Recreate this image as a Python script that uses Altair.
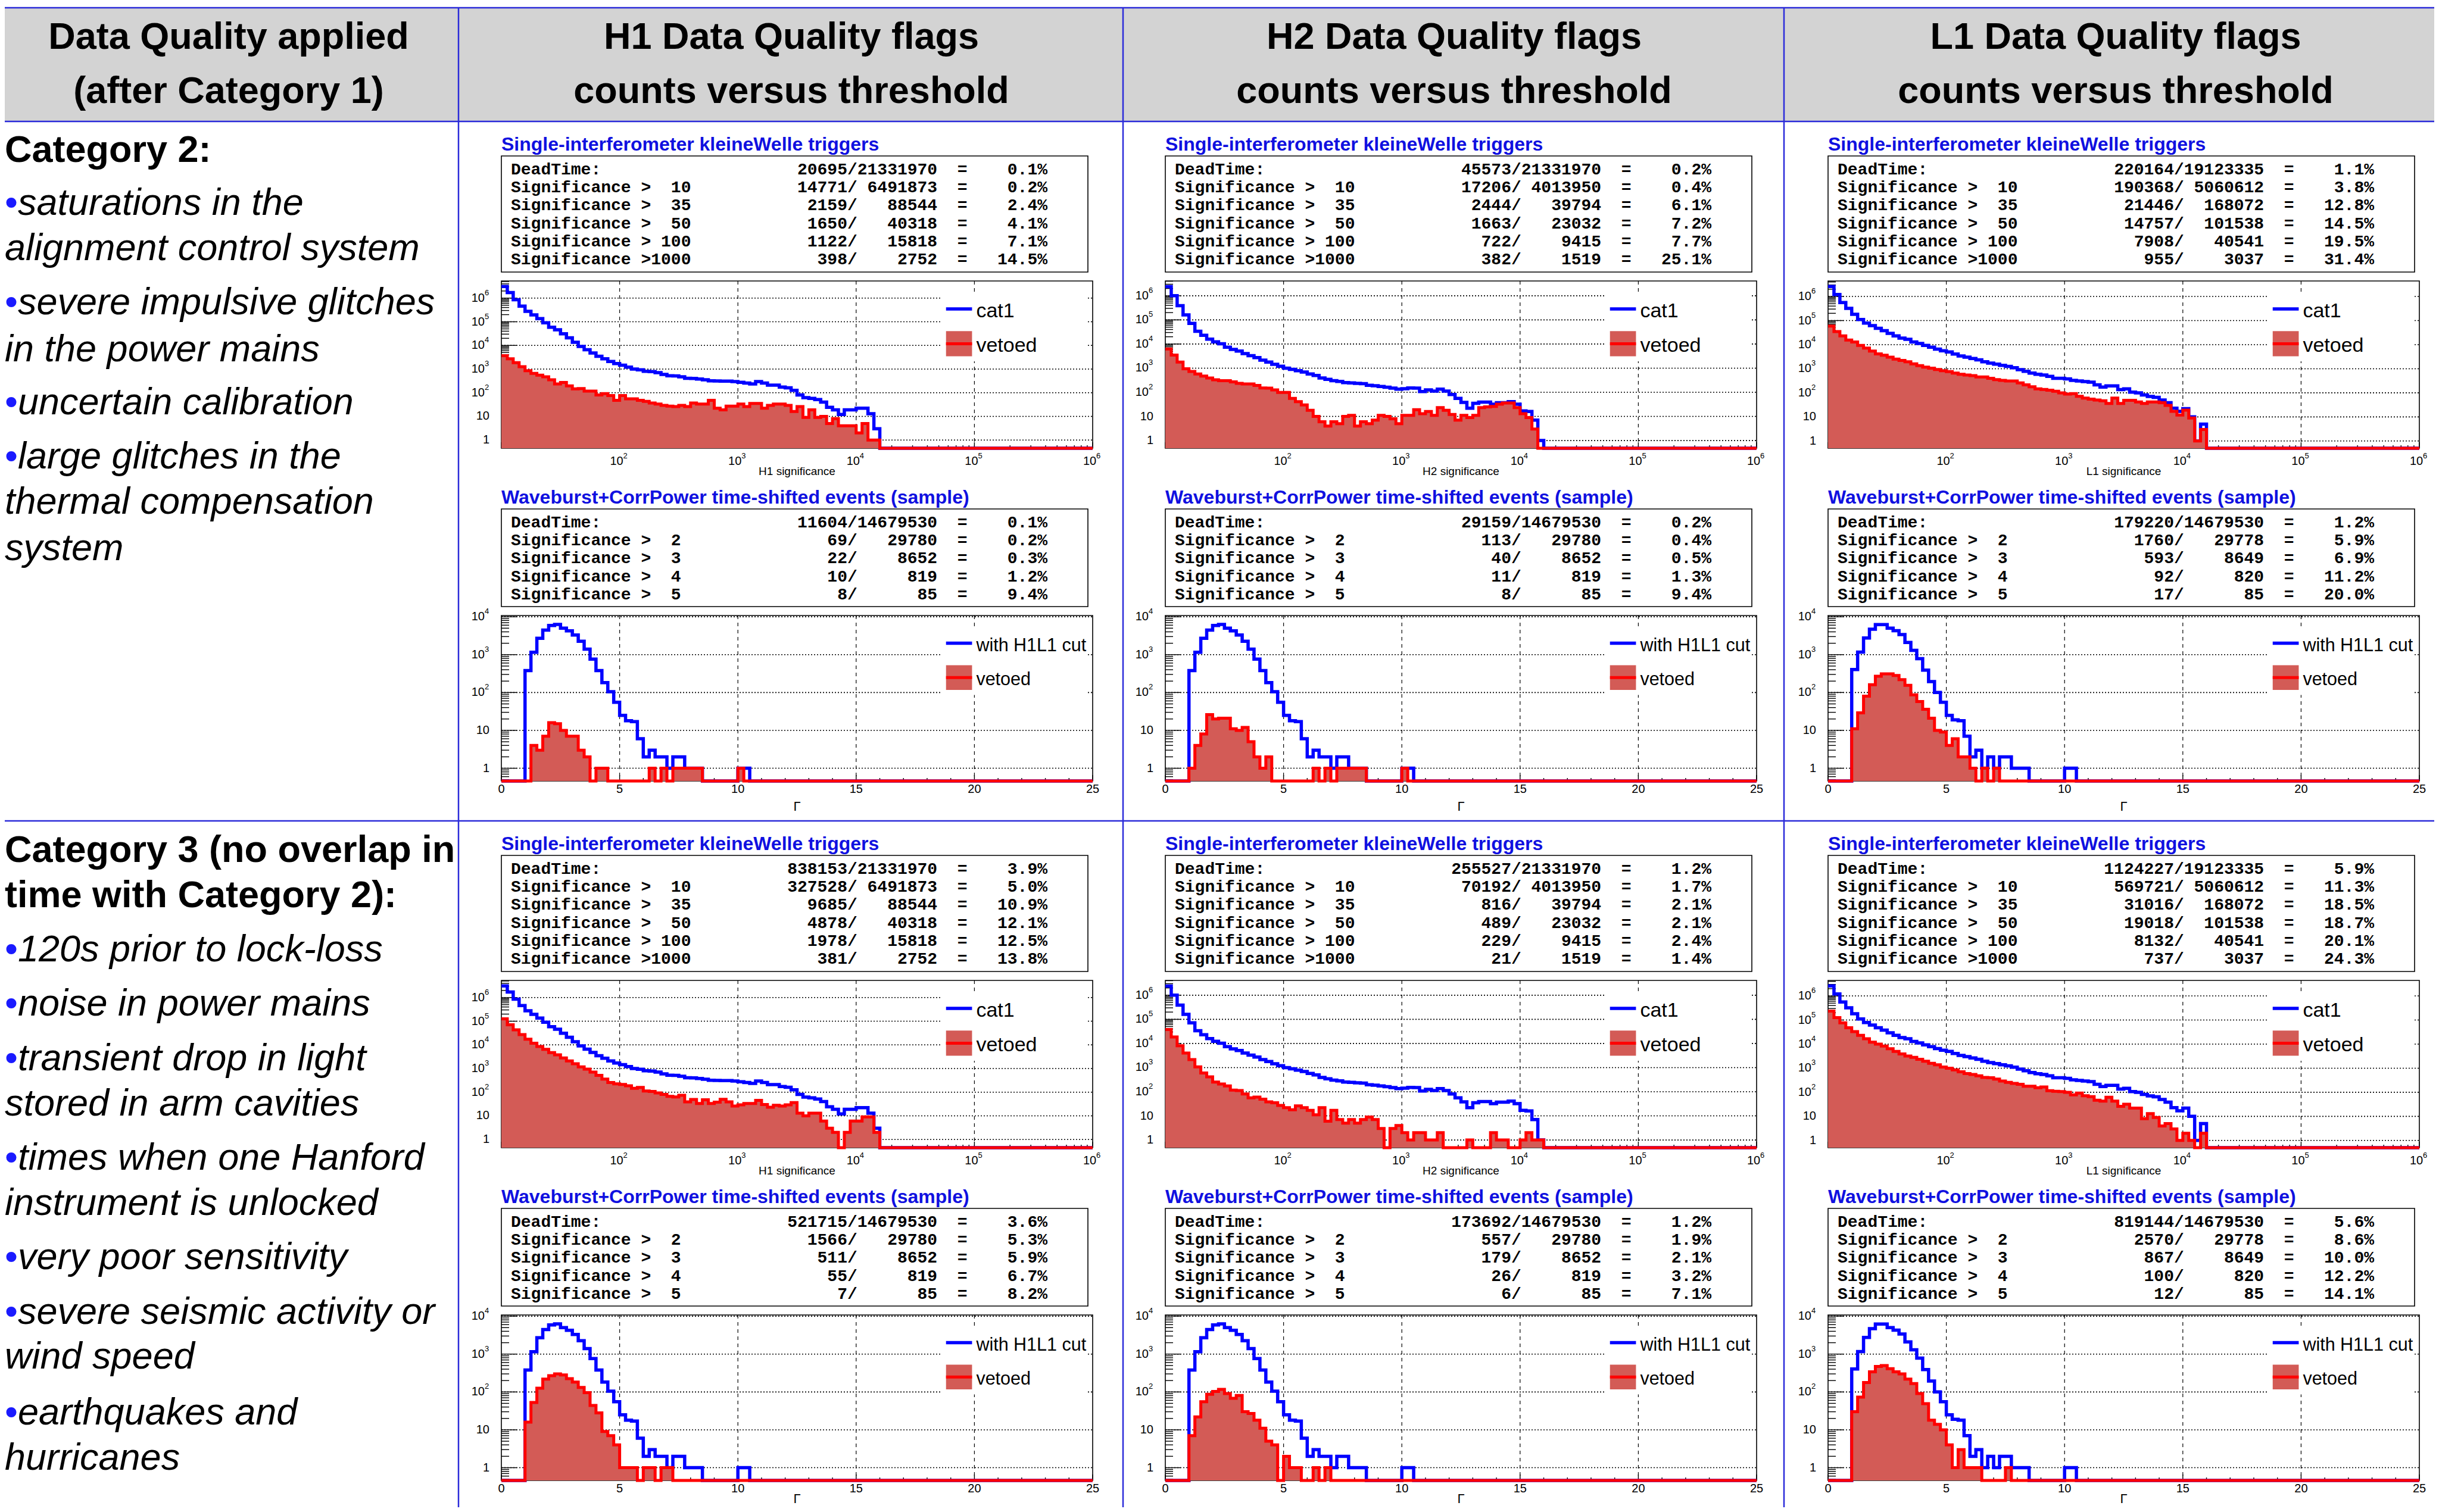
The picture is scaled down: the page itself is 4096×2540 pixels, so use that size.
import altair as alt
import pandas as pd

# ============================ values ============================
# kleineWelle single-interferometer triggers, counts per logarithmic significance bin
# (20 bins per decade starting at 10; every bin after the listed ones is empty)
SIG_BINS_PER_DECADE = 20
SIG_RANGE = [10, 1e6]

H1_CAT1 = [3100000, 1700000, 850000, 460000, 275000, 195000, 135000, 91000, 59000, 46000,
           31000, 21000, 13500, 9100, 6600, 4800, 3500, 2700, 2100, 1700,
           1450, 1200, 1000, 930, 810, 780, 710, 590, 520, 510,
           470, 410, 400, 380, 350, 320, 316, 310, 310, 295,
           275, 257, 234, 295, 257, 209, 209, 174, 162, 126,
           81, 62, 58, 51, 40, 24, 19, 12, 19, 19,
           22, 22, 13, 3]
H2_CAT1 = [2400000, 1000000, 390000, 162000, 72000, 34000, 23000, 16000, 12300, 10200,
           7400, 6000, 5100, 4000, 3300, 2750, 2140, 1780, 1450, 1200,
           1000, 890, 780, 690, 575, 500, 390, 345, 302, 282,
           251, 245, 234, 229, 195, 186, 174, 162, 148, 135,
           141, 151, 148, 107, 126, 112, 135, 112, 81, 56,
           38, 22, 35, 39, 39, 32, 37, 37, 41, 32,
           17, 16, 7, 1]
L1_CAT1 = [2600000, 1200000, 560000, 320000, 182000, 110000, 79000, 62000, 48000, 38000,
           29500, 23000, 18600, 16600, 12900, 11200, 9300, 7800, 6500, 5600,
           5000, 4100, 3400, 3000, 2650, 2350, 1950, 1700, 1550, 1380,
           1250, 1100, 910, 780, 660, 590, 550, 480, 400, 400,
           380, 330, 310, 295, 275, 214, 174, 195, 195, 135,
           145, 107, 100, 81, 71, 65, 50, 39, 23, 17,
           22, 10, 1, 5]

H1_CAT2_VETOED = [3700, 2700, 1860, 1260, 850, 660, 550, 470, 350, 234,
                  270, 195, 145, 151, 117, 117, 81, 91, 76, 48,
                  76, 55, 55, 48, 43, 37, 33, 29, 27, 26,
                  29, 26, 37, 33, 33, 48, 22, 19, 27, 27,
                  33, 26, 35, 35, 22, 29, 33, 33, 29, 16,
                  26, 9, 19, 9, 10, 5, 8, 4, 4, 4,
                  2, 5, 1, 1]
H2_CAT2_VETOED = [6200, 3500, 1780, 940, 730, 570, 470, 390, 330, 302,
                  302, 269, 234, 223, 223, 191, 151, 148, 126, 98,
                  98, 56, 41, 30, 18, 10, 6, 4, 6, 5,
                  10, 11, 4, 6, 5, 7, 11, 10, 8, 5,
                  11, 11, 19, 13, 16, 11, 23, 18, 12, 7,
                  11, 9, 11, 23, 25, 26, 32, 36, 36, 23,
                  13, 9, 3, 0]
L1_CAT2_VETOED = [59000, 35000, 23000, 15500, 12900, 9300, 7200, 5400, 4150, 3650,
                  3000, 2500, 2200, 1950, 1600, 1350, 1170, 1050, 930, 830,
                  760, 660, 590, 550, 515, 455, 455, 400, 355, 330,
                  310, 310, 257, 214, 178, 145, 138, 129, 117, 100,
                  89, 93, 72, 60, 55, 50, 47, 36, 60, 36,
                  49, 49, 42, 36, 42, 42, 39, 30, 17, 12,
                  19, 9, 1, 3]
H1_CAT3_VETOED = [126000, 71000, 43000, 27000, 17400, 11800, 8500, 6450, 4700, 3800,
                  2800, 2100, 1580, 1180, 950, 710, 515, 355, 257, 225,
                  212, 186, 145, 158, 112, 107, 93, 81, 67, 63,
                  74, 39, 49, 33, 48, 33, 38, 50, 39, 26,
                  29, 33, 33, 45, 30, 23, 28, 26, 29, 36,
                  13, 10, 13, 13, 6, 3, 2, 0, 2, 6,
                  6, 9, 9, 2]
H2_CAT3_VETOED = [38000, 18600, 8000, 4000, 2140, 1070, 600, 415, 251, 209,
                  174, 117, 112, 81, 56, 60, 49, 38, 35, 27,
                  22, 18, 26, 22, 17, 11, 22, 6, 17, 7,
                  5, 7, 5, 7, 9, 7, 3, 0, 3, 4,
                  2, 1, 2, 2, 1, 1, 2, 0, 0, 0,
                  0, 1, 0, 0, 0, 2, 1, 1, 0, 0,
                  1, 2, 1, 1]
L1_CAT3_VETOED = [234000, 126000, 76000, 48000, 33000, 23000, 16600, 12000, 10000, 8300,
                  6450, 5000, 3900, 3200, 2800, 2350, 1950, 1600, 1380, 1120,
                  1000, 850, 710, 600, 550, 480, 410, 400, 355, 295,
                  257, 234, 214, 178, 178, 155, 166, 117, 110, 107,
                  100, 78, 93, 72, 66, 47, 43, 62, 43, 26,
                  32, 22, 22, 8, 13, 9, 4, 5, 3, 1,
                  2, 1, 0, 2]

# Waveburst+CorrPower time-shifted events, counts per Gamma bin
# (bins of 0.25 starting at 0; every bin after the listed ones is empty)
GAMMA_BIN = 0.25
GAMMA_RANGE = [0, 25]
GAMMA_H1L1_CUT = [0, 0, 0, 0, 380, 1150, 2700, 4450, 5900, 6300,
                  5000, 4250, 3300, 2250, 1400, 760, 380, 182, 105, 55,
                  25, 18, 17, 6, 2, 3, 2, 2, 1, 2,
                  2, 1, 1, 1, 0, 0, 0, 0, 0, 0,
                  1, 1]
GAMMA_H1L1_CUT_L1 = [0, 0, 0, 0, 405, 1170, 2750, 4700, 6200, 6200,
                     5000, 4300, 3400, 2100, 1300, 780, 390, 195, 100, 55,
                     25, 19, 18, 7, 2, 3, 1, 2, 1, 2,
                     2, 1, 1, 1, 0, 0, 0, 0, 0, 0,
                     1, 1]
H1_CAT2_G_VETOED = [0, 0, 0, 0, 0, 4, 3, 7, 16, 15, 10, 7, 7, 3, 2, 0, 1, 1, 0, 0,
                    0, 0, 0, 0, 0, 1, 0, 1, 0, 1, 1, 1, 1, 1, 0, 0, 0, 0, 0, 0, 1, 0]
H2_CAT2_G_VETOED = [0, 0, 0, 0, 1, 4, 8, 26, 20, 21, 21, 11, 10, 12, 5, 2, 1, 2, 0, 0,
                    0, 0, 0, 0, 0, 1, 0, 1, 0, 1, 1, 1, 1, 1, 0, 0, 0, 0, 0, 0, 1, 0]
L1_CAT2_G_VETOED = [0, 0, 0, 0, 11, 29, 80, 160, 270, 310, 310, 282, 219, 155, 87, 58, 36, 21, 10, 9,
                    4, 6, 2, 2, 1, 0, 1, 0, 1]
H1_CAT3_G_VETOED = [0, 0, 0, 0, 16, 53, 126, 219, 270, 300, 282, 224, 182, 132, 96, 44, 28, 9, 7, 4,
                    1, 1, 1, 0, 1, 1, 0, 1, 1]
H2_CAT3_G_VETOED = [0, 0, 0, 0, 7, 22, 55, 87, 103, 117, 91, 68, 81, 30, 27, 18, 11, 5, 4, 0,
                    2, 1, 1, 0, 0, 1, 0, 1]
L1_CAT3_G_VETOED = [0, 0, 0, 0, 30, 73, 178, 340, 470, 500, 410, 340, 300, 219, 166, 91, 49, 18, 14, 10,
                    4, 1, 3, 1, 1, 1, 0, 0, 0, 0, 1]

# statistics boxes: (vetoed, total, percent)
KW_LABELS = ["DeadTime:", "Significance >  10", "Significance >  35",
             "Significance >  50", "Significance > 100", "Significance >1000"]
WB_LABELS = ["DeadTime:", "Significance >  2", "Significance >  3",
             "Significance >  4", "Significance >  5"]
KW_STATS = {
    ("H1", 2): [(20695, 21331970, 0.1), (14771, 6491873, 0.2), (2159, 88544, 2.4),
                (1650, 40318, 4.1), (1122, 15818, 7.1), (398, 2752, 14.5)],
    ("H2", 2): [(45573, 21331970, 0.2), (17206, 4013950, 0.4), (2444, 39794, 6.1),
                (1663, 23032, 7.2), (722, 9415, 7.7), (382, 1519, 25.1)],
    ("L1", 2): [(220164, 19123335, 1.1), (190368, 5060612, 3.8), (21446, 168072, 12.8),
                (14757, 101538, 14.5), (7908, 40541, 19.5), (955, 3037, 31.4)],
    ("H1", 3): [(838153, 21331970, 3.9), (327528, 6491873, 5.0), (9685, 88544, 10.9),
                (4878, 40318, 12.1), (1978, 15818, 12.5), (381, 2752, 13.8)],
    ("H2", 3): [(255527, 21331970, 1.2), (70192, 4013950, 1.7), (816, 39794, 2.1),
                (489, 23032, 2.1), (229, 9415, 2.4), (21, 1519, 1.4)],
    ("L1", 3): [(1124227, 19123335, 5.9), (569721, 5060612, 11.3), (31016, 168072, 18.5),
                (19018, 101538, 18.7), (8132, 40541, 20.1), (737, 3037, 24.3)],
}
WB_STATS = {
    ("H1", 2): [(11604, 14679530, 0.1), (69, 29780, 0.2), (22, 8652, 0.3), (10, 819, 1.2), (8, 85, 9.4)],
    ("H2", 2): [(29159, 14679530, 0.2), (113, 29780, 0.4), (40, 8652, 0.5), (11, 819, 1.3), (8, 85, 9.4)],
    ("L1", 2): [(179220, 14679530, 1.2), (1760, 29778, 5.9), (593, 8649, 6.9), (92, 820, 11.2), (17, 85, 20.0)],
    ("H1", 3): [(521715, 14679530, 3.6), (1566, 29780, 5.3), (511, 8652, 5.9), (55, 819, 6.7), (7, 85, 8.2)],
    ("H2", 3): [(173692, 14679530, 1.2), (557, 29780, 1.9), (179, 8652, 2.1), (26, 819, 3.2), (6, 85, 7.1)],
    ("L1", 3): [(819144, 14679530, 5.6), (2570, 29778, 8.6), (867, 8649, 10.0), (100, 820, 12.2), (12, 85, 14.1)],
}

HEADERS = [("Data Quality applied", "(after Category 1)"),
           ("H1 Data Quality flags", "counts versus threshold"),
           ("H2 Data Quality flags", "counts versus threshold"),
           ("L1 Data Quality flags", "counts versus threshold")]
KW_TITLE = "Single-interferometer kleineWelle triggers"
WB_TITLE = "Waveburst+CorrPower time-shifted events (sample)"

# left-column text: (text, style) style: b=bold, i=bullet item, c=continuation
CAT2_TEXT = [("Category 2:", "b"), ("saturations in the", "i"), ("alignment control system", "c"),
             ("severe impulsive glitches", "i"), ("in the power mains", "c"),
             ("uncertain calibration", "i"), ("large glitches in the", "i"),
             ("thermal compensation", "c"), ("system", "c")]
CAT3_TEXT = [("Category 3 (no overlap in", "b"), ("time with Category 2):", "b"),
             ("120s prior to lock-loss", "i"), ("noise in power mains", "i"),
             ("transient drop in light", "i"), ("stored in arm cavities", "c"),
             ("times when one Hanford", "i"), ("instrument is unlocked", "c"),
             ("very poor sensitivity", "i"), ("severe seismic activity or", "i"),
             ("wind speed", "c"), ("earthquakes and", "i"), ("hurricanes", "c")]

# ==================================== layout ====================================
SHIFT = 8
CW, CH = 4080, 2524
SANS = "Liberation Sans"
MONO = "Liberation Mono"
BLUE = "#0000ff"
RED = "#ff0000"
FILL = "#d35b56"
BORDER = "#2b2bd9"
TITLE_BLUE = "#1010e0"
GRAY = "#d3d3d3"
NB = "\u00a0"
STAT_FS = 28

COLS = ["H1", "H2", "L1"]
FRAME_LEFT = {"H1": 842, "H2": 1957, "L1": 3070}
FRAME_W = 993
ROW_DY = {2: 0, 3: 1175}
KW_TITLE_Y, WB_TITLE_Y = 243, 836
KW_BOX_Y, WB_BOX_Y = (262, 457), (855, 1019)
KW_LINE_Y0, WB_LINE_Y0, LINE_STEP = 285, 878, 30.2
SIG_FRAME_Y, SIG_H = 472, 281
GAM_FRAME_Y, GAM_H = 1034, 278
SIG_YDOM = {"H1": [0.45, 5.3e6], "H2": [0.48, 4.1e6], "L1": [0.5, 4.4e6]}
GAM_YDOM = [0.46, 1.08e4]
HEADER_CX = [384, 1329, 2442, 3553]
COL_BORDERS = [770, 1886, 2996]
CAT2_Y = [253, 342, 418, 509, 588, 677, 768, 844, 922]
CAT3_Y = [1429, 1505, 1596, 1687, 1779, 1855, 1946, 2022, 2113, 2205, 2280, 2374, 2450]


def P(v):
    return v - SHIFT


def keep_spaces(s):
    return s.replace(" ", NB)


def px_rect(rows, **kw):
    df = pd.DataFrame(rows, columns=["x", "x2", "y", "y2"])
    return alt.Chart(df).mark_rect(**kw).encode(
        x=alt.X("x:Q", scale=None, axis=None), x2="x2:Q",
        y=alt.Y("y:Q", scale=None, axis=None), y2="y2:Q")


def px_hrule(rows, **kw):
    df = pd.DataFrame(rows, columns=["x", "x2", "y"])
    return alt.Chart(df).mark_rule(**kw).encode(
        x=alt.X("x:Q", scale=None, axis=None), x2="x2:Q",
        y=alt.Y("y:Q", scale=None, axis=None))


def px_vrule(rows, **kw):
    df = pd.DataFrame(rows, columns=["x", "y", "y2"])
    return alt.Chart(df).mark_rule(**kw).encode(
        x=alt.X("x:Q", scale=None, axis=None),
        y=alt.Y("y:Q", scale=None, axis=None), y2="y2:Q")


def px_text(rows, **kw):
    df = pd.DataFrame(rows, columns=["x", "y", "t"])
    return alt.Chart(df).mark_text(**kw).encode(
        x=alt.X("x:Q", scale=None, axis=None),
        y=alt.Y("y:Q", scale=None, axis=None), text="t:N")


def step_df(edges, counts, floor, xmax):
    rows = [{"x": edges[i], "y": (c if c > 0 else floor), "b": floor} for i, c in enumerate(counts)]
    rows.append({"x": edges[len(counts)], "y": floor, "b": floor})
    rows.append({"x": xmax, "y": floor, "b": floor})
    return pd.DataFrame(rows)


def hist_block(kind, col, cat, blue, red):
    L = P(FRAME_LEFT[col])
    W = FRAME_W
    if kind == "sig":
        T = P(SIG_FRAME_Y + ROW_DY[cat]); H = SIG_H
        ydom = SIG_YDOM[col]
        xs = alt.Scale(type="log", domain=SIG_RANGE, range=[L, L + W], nice=False)
        edges = [SIG_RANGE[0] * 10 ** (i / SIG_BINS_PER_DECADE) for i in range(len(blue) + 2)]
        xmax = SIG_RANGE[1]
        xgrid = [1e2, 1e3, 1e4, 1e5]
        xmaj = [1e1, 1e2, 1e3, 1e4, 1e5, 1e6]
        xmin = [m * 10 ** d for d in range(1, 6) for m in range(2, 10)]
        ydec = [1, 10, 1e2, 1e3, 1e4, 1e5, 1e6]
        xlab_exp = [(1e2, 2), (1e3, 3), (1e4, 4), (1e5, 5), (1e6, 6)]
        xlab_plain = []
    else:
        T = P(GAM_FRAME_Y + ROW_DY[cat]); H = GAM_H
        ydom = GAM_YDOM
        xs = alt.Scale(type="linear", domain=GAMMA_RANGE, range=[L, L + W], nice=False, zero=False)
        edges = [GAMMA_RANGE[0] + GAMMA_BIN * i for i in range(max(len(blue), len(red)) + 2)]
        xmax = GAMMA_RANGE[1]
        xgrid = [5, 10, 15, 20]
        xmaj = [0, 5, 10, 15, 20, 25]
        xmin = [v for v in range(1, 25) if v % 5]
        ydec = [1, 10, 1e2, 1e3, 1e4]
        xlab_exp = []
        xlab_plain = [(v, str(v)) for v in xmaj]
    ys = alt.Scale(type="log", domain=ydom, range=[T + H, T], nice=False)
    floor = ydom[0]
    ymin_ticks = [m * 10 ** d for d in range(-1, 7) for m in range(2, 10)
                  if ydom[0] < m * 10 ** d < ydom[1]]
    out = []
    out.append(alt.Chart(pd.DataFrame({"v": xgrid})).mark_rule(
        color="black", strokeWidth=1.2, strokeDash=[6, 6]).encode(
        x=alt.X("v:Q", scale=xs, axis=None), y=alt.value(T), y2=alt.value(T + H)))
    out.append(alt.Chart(pd.DataFrame({"v": ydec})).mark_rule(
        color="black", strokeWidth=1.6, strokeDash=[2, 3]).encode(
        y=alt.Y("v:Q", scale=ys, axis=None), x=alt.value(L), x2=alt.value(L + W)))
    yt = [{"v": v, "a": L, "b": L + 26} for v in ydec] + [{"v": v, "a": L, "b": L + 13} for v in ymin_ticks]
    out.append(alt.Chart(pd.DataFrame(yt)).mark_rule(color="black", strokeWidth=1.4).encode(
        y=alt.Y("v:Q", scale=ys, axis=None), x=alt.X("a:Q", scale=None, axis=None), x2="b:Q"))
    xt = [{"v": v, "a": T + H, "b": T + H - 10} for v in xmaj] + [{"v": v, "a": T + H, "b": T + H - 5} for v in xmin]
    out.append(alt.Chart(pd.DataFrame(xt)).mark_rule(color="black", strokeWidth=1.4).encode(
        x=alt.X("v:Q", scale=xs, axis=None), y=alt.Y("a:Q", scale=None, axis=None), y2="b:Q"))
    # histograms
    bdf = step_df(edges, blue, floor, xmax)
    rdf = step_df(edges, red, floor, xmax)
    out.append(alt.Chart(bdf).mark_line(interpolate="step-after", color=BLUE, strokeWidth=5.5).encode(
        x=alt.X("x:Q", scale=xs, axis=None), y=alt.Y("y:Q", scale=ys, axis=None)))
    out.append(alt.Chart(rdf).mark_area(interpolate="step-after", color=FILL, opacity=1).encode(
        x=alt.X("x:Q", scale=xs, axis=None), y=alt.Y("y:Q", scale=ys, axis=None), y2="b:Q"))
    out.append(alt.Chart(rdf).mark_line(interpolate="step-after", color=RED, strokeWidth=5).encode(
        x=alt.X("x:Q", scale=xs, axis=None), y=alt.Y("y:Q", scale=ys, axis=None)))
    # axis labels
    lab_y = T + H + (22 if kind == "sig" else 14)
    if xlab_exp:
        d = pd.DataFrame([{"v": v, "t": "10", "e": str(e)} for v, e in xlab_exp])
        out.append(alt.Chart(d).mark_text(font=SANS, fontSize=20, align="center", baseline="middle", dx=-5).encode(
            x=alt.X("v:Q", scale=xs, axis=None), y=alt.value(lab_y), text="t:N"))
        out.append(alt.Chart(d).mark_text(font=SANS, fontSize=13, align="left", baseline="middle", dx=6).encode(
            x=alt.X("v:Q", scale=xs, axis=None), y=alt.value(lab_y - 9), text="e:N"))
    if xlab_plain:
        d = pd.DataFrame([{"v": v, "t": t} for v, t in xlab_plain])
        out.append(alt.Chart(d).mark_text(font=SANS, fontSize=20, align="center", baseline="middle").encode(
            x=alt.X("v:Q", scale=xs, axis=None), y=alt.value(lab_y), text="t:N"))
    d_plain = pd.DataFrame([{"v": 1, "t": "1"}, {"v": 10, "t": "10"}])
    out.append(alt.Chart(d_plain).mark_text(font=SANS, fontSize=20, align="right", baseline="middle").encode(
        y=alt.Y("v:Q", scale=ys, axis=None), x=alt.value(L - 20), text="t:N"))
    d_exp = pd.DataFrame([{"v": 10 ** e, "t": "10", "e": str(e)} for e in range(2, 7) if 10 ** e <= ydom[1]])
    out.append(alt.Chart(d_exp).mark_text(font=SANS, fontSize=20, align="right", baseline="middle").encode(
        y=alt.Y("v:Q", scale=ys, axis=None), x=alt.value(L - 28), text="t:N"))
    out.append(alt.Chart(d_exp).mark_text(font=SANS, fontSize=13, align="left", baseline="middle", dy=-9).encode(
        y=alt.Y("v:Q", scale=ys, axis=None), x=alt.value(L - 28), text="e:N"))
    return out


layers = []
# header band and borders
layers.append(px_rect([[0, CW, P(13), P(204)]], color=GRAY))
layers.append(px_hrule([[0, CW, P(13)], [0, CW, P(204)], [0, CW, P(1379)]], color=BORDER, strokeWidth=2.5))
layers.append(px_vrule([[P(x), P(13), CH] for x in COL_BORDERS], color=BORDER, strokeWidth=2.5))
hdr = []
for cx, (a, b) in zip(HEADER_CX, HEADERS):
    hdr.append([P(cx), P(63), a])
    hdr.append([P(cx), P(154), b])
layers.append(px_text(hdr, font=SANS, fontSize=63, fontWeight="bold", align="center", baseline="middle", color="black"))

# left column text
bold_rows, item_rows, bullet_rows = [], [], []
for texts, ys_ in ((CAT2_TEXT, CAT2_Y), (CAT3_TEXT, CAT3_Y)):
    for (t, s), y in zip(texts, ys_):
        if s == "b":
            bold_rows.append([0, P(y), t])
        elif s == "i":
            bullet_rows.append([0, P(y), "\u2022"])
            item_rows.append([22, P(y), t])
        else:
            item_rows.append([0, P(y), t])
layers.append(px_text(bold_rows, font=SANS, fontSize=63, fontWeight="bold", align="left", baseline="middle", color="black"))
layers.append(px_text(item_rows, font=SANS, fontSize=63, fontStyle="italic", align="left", baseline="middle", color="black"))
layers.append(px_text(bullet_rows, font=SANS, fontSize=63, align="left", baseline="middle", color="#1a1aff"))

# titles, stats boxes
title_rows, box_rows, lab_rows, val_rows = [], [], [], []
for cat in (2, 3):
    dy = ROW_DY[cat]
    for col in COLS:
        L = P(FRAME_LEFT[col])
        title_rows.append([L, P(KW_TITLE_Y + dy), KW_TITLE])
        title_rows.append([L, P(WB_TITLE_Y + dy), WB_TITLE])
        box_rows.append([L, L + FRAME_W - 8, P(KW_BOX_Y[0] + dy), P(KW_BOX_Y[1] + dy)])
        box_rows.append([L, L + FRAME_W - 8, P(WB_BOX_Y[0] + dy), P(WB_BOX_Y[1] + dy)])
        for k, (lab, (n, d, p)) in enumerate(zip(KW_LABELS, KW_STATS[(col, cat)])):
            y = P(KW_LINE_Y0 + dy + k * LINE_STEP)
            lab_rows.append([L + 16, y, keep_spaces(lab)])
            val_rows.append([L + 917, y, keep_spaces(f"{n}/{d:>8}  = {p:>6.1f}%")])
        for k, (lab, (n, d, p)) in enumerate(zip(WB_LABELS, WB_STATS[(col, cat)])):
            y = P(WB_LINE_Y0 + dy + k * LINE_STEP)
            lab_rows.append([L + 16, y, keep_spaces(lab)])
            val_rows.append([L + 917, y, keep_spaces(f"{n}/{d:>8}  = {p:>6.1f}%")])
layers.append(px_text(title_rows, font=SANS, fontSize=32, fontWeight="bold", align="left", baseline="middle", color=TITLE_BLUE))
layers.append(px_rect(box_rows, fill="white", stroke="black", strokeWidth=1.6))
layers.append(px_text(lab_rows, font=MONO, fontSize=STAT_FS, fontWeight="bold", align="left", baseline="middle", color="black"))
layers.append(px_text(val_rows, font=MONO, fontSize=STAT_FS, fontWeight="bold", align="right", baseline="middle", color="black"))

# histogram frames
frames = []
for cat in (2, 3):
    for col in COLS:
        L = P(FRAME_LEFT[col])
        T1 = P(SIG_FRAME_Y + ROW_DY[cat]); T2 = P(GAM_FRAME_Y + ROW_DY[cat])
        frames.append([L, L + FRAME_W, T1, T1 + SIG_H])
        frames.append([L, L + FRAME_W, T2, T2 + GAM_H])
layers.append(px_rect(frames, fill="white", stroke="black", strokeWidth=1.6))

SIG_BLUE = {"H1": H1_CAT1, "H2": H2_CAT1, "L1": L1_CAT1}
SIG_RED = {("H1", 2): H1_CAT2_VETOED, ("H2", 2): H2_CAT2_VETOED, ("L1", 2): L1_CAT2_VETOED,
           ("H1", 3): H1_CAT3_VETOED, ("H2", 3): H2_CAT3_VETOED, ("L1", 3): L1_CAT3_VETOED}
GAM_BLUE = {"H1": GAMMA_H1L1_CUT, "H2": GAMMA_H1L1_CUT, "L1": GAMMA_H1L1_CUT_L1}
GAM_RED = {("H1", 2): H1_CAT2_G_VETOED, ("H2", 2): H2_CAT2_G_VETOED, ("L1", 2): L1_CAT2_G_VETOED,
           ("H1", 3): H1_CAT3_G_VETOED, ("H2", 3): H2_CAT3_G_VETOED, ("L1", 3): L1_CAT3_G_VETOED}

for cat in (2, 3):
    for col in COLS:
        layers += hist_block("sig", col, cat, SIG_BLUE[col], SIG_RED[(col, cat)])
        layers += hist_block("gam", col, cat, GAM_BLUE[col], GAM_RED[(col, cat)])

# legends and axis titles
leg_box, leg_fill, leg_blue, leg_red, leg_t_top, leg_t_bot, ax_t, gam_t = [], [], [], [], [], [], [], []
for cat in (2, 3):
    for col in COLS:
        L = P(FRAME_LEFT[col]); W = FRAME_W
        for kind, T, H in (("sig", P(SIG_FRAME_Y + ROW_DY[cat]), SIG_H), ("gam", P(GAM_FRAME_Y + ROW_DY[cat]), GAM_H)):
            leg_box.append([L + 0.744 * W, L + 0.99 * W, T + 0.07 * H, T + 0.48 * H])
            leg_fill.append([L + 0.752 * W, L + 0.796 * W, T + 0.30 * H, T + 0.45 * H])
            leg_blue.append([L + 0.752 * W, L + 0.796 * W, T + 0.167 * H])
            leg_red.append([L + 0.752 * W, L + 0.796 * W, T + 0.375 * H])
            if kind == "sig":
                leg_t_top.append([L + 0.803 * W, T + 0.18 * H, "cat1"])
                leg_t_top.append([L + 0.803 * W, T + 0.387 * H, "vetoed"])
                ax_t.append([L + W / 2, T + H + 39, f"{col} significance"])
            else:
                leg_t_bot.append([L + 0.803 * W, T + 0.185 * H, "with H1L1 cut"])
                leg_t_bot.append([L + 0.803 * W, T + 0.39 * H, "vetoed"])
                gam_t.append([L + W / 2, min(T + H + 43, CH - 14), "\u0393"])
layers.append(px_rect(leg_box, fill="white"))
layers.append(px_rect(leg_fill, color=FILL))
layers.append(px_hrule(leg_blue, color=BLUE, strokeWidth=5.5))
layers.append(px_hrule(leg_red, color=RED, strokeWidth=5))
layers.append(px_text(leg_t_top, font=SANS, fontSize=34, align="left", baseline="middle", color="black"))
layers.append(px_text(leg_t_bot, font=SANS, fontSize=30.5, align="left", baseline="middle", color="black"))
layers.append(px_text(ax_t, font=SANS, fontSize=19, align="center", baseline="middle", color="black"))
layers.append(px_text(gam_t, font=SANS, fontSize=22, align="center", baseline="middle", color="black"))

chart = alt.layer(*layers).resolve_scale(x="independent", y="independent").properties(
    width=CW, height=CH, padding=0, autosize=alt.AutoSizeParams(type="none"), background="white"
).configure_view(stroke=None)

chart.save("out.html", embed_options={"renderer": "svg", "actions": False})
